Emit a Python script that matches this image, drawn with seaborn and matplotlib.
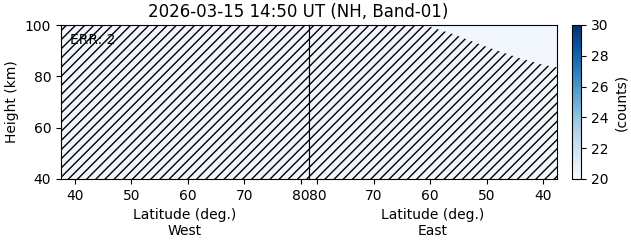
import numpy as np
import matplotlib
matplotlib.use("Agg")
import matplotlib.pyplot as plt
import seaborn as sns

# ---- data ----
title = "2026-03-15 14:50 UT (NH, Band-01)"
err_text = "ERR: 2"
lat_edges = [37.5, 40, 50, 60, 70, 80, 81.5]
height_edges = [40, 60, 80, 100]
counts_west = [[20.3, 20.3, 20.3, 20.3, 20.3, 20.3],
               [20.3, 20.3, 20.3, 20.3, 20.3, 20.3],
               [20.3, 20.3, 20.3, 20.3, 20.3, 20.3]]
counts_east = [[20.3, 20.3, 20.3, 20.3, 20.3, 20.3],
               [20.3, 20.3, 20.3, 20.3, 20.3, 20.3],
               [20.3, 20.3, 20.3, 20.3, 20.3, 20.3]]
# top of the invalid (hatched) region per latitude
west_invalid_lat = [37.5, 81.5]
west_invalid_top = [100, 100]
east_invalid_lat = [81.5, 61, 56, 50, 44, 40, 37.5]
east_invalid_top = [100, 100, 96.5, 91.5, 87, 84.5, 83.5]
lat_ticks = [40, 50, 60, 70, 80]
cbar_ticks = [20, 22, 24, 26, 28, 30]
vmin, vmax = 20, 30

# rendered at dpi 110 (sizes rescaled) so that the hatch spacing matches
DPI = 110
k = 100 / DPI
sns.set_style("white")
plt.rcParams.update({
    "font.family": ["DejaVu Sans"],
    "font.size": 10 * k,
    "axes.labelsize": 10 * k,
    "xtick.labelsize": 10 * k,
    "ytick.labelsize": 10 * k,
    "axes.linewidth": 0.8 * k,
    "axes.edgecolor": "black",
    "axes.labelcolor": "black",
    "xtick.color": "black",
    "ytick.color": "black",
    "text.color": "black",
    "xtick.major.size": 3.5 * k, "ytick.major.size": 3.5 * k,
    "xtick.major.width": 0.8 * k, "ytick.major.width": 0.8 * k,
    "xtick.major.pad": 3.5 * k, "ytick.major.pad": 3.5 * k,
    "xtick.bottom": True, "ytick.left": True,
    "axes.labelpad": 4 * k,
    "grid.linewidth": 0.8 * k,
    "grid.color": "#b0b0b0",
    "hatch.linewidth": 1.0 * k,
    "hatch.color": "black",
})

cmap = sns.color_palette("Blues", as_cmap=True)

W, H = 631, 243
fig = plt.figure(figsize=(W / DPI, H / DPI), dpi=DPI)
bottom = 1 - 179 / H
height = 154 / H
axW = fig.add_axes([61 / W, bottom, 248 / W, height])
axE = fig.add_axes([309 / W, bottom, 248 / W, height])
cax = fig.add_axes([572 / W, bottom, 9 / W, height])

for ax, counts, ilat, itop, xlim, side in [
        (axW, counts_west, west_invalid_lat, west_invalid_top, (37.5, 81.5), "West"),
        (axE, counts_east, east_invalid_lat, east_invalid_top, (81.5, 37.5), "East")]:
    mesh = ax.pcolormesh(lat_edges, height_edges, np.array(counts),
                         cmap=cmap, vmin=vmin, vmax=vmax, shading="flat")
    ax.fill_between(ilat, 40, itop, facecolor="none", edgecolor="black",
                    hatch="////", linewidth=0)
    ax.set_xlim(*xlim)
    ax.set_ylim(40, 100)
    ax.set_xticks(lat_ticks)
    ax.set_yticks([40, 60, 80, 100])
    ax.grid(True)
    ax.set_xlabel("Latitude (deg.)\n" + side)
    for s in ax.spines.values():
        s.set_visible(True)

axW.set_ylabel("Height (km)")
axE.tick_params(left=False, labelleft=False)
axW.text(0.036, 0.945, err_text, transform=axW.transAxes, va="top", ha="left")

cb = fig.colorbar(mesh, cax=cax, ticks=cbar_ticks)
cb.set_label("(counts)")
cb.outline.set_linewidth(0.8 * k)

fig.text(298 / W, 1 - 17 / H, title, ha="center", va="baseline", fontsize=12 * k)

fig.savefig("out.png", dpi=DPI)
